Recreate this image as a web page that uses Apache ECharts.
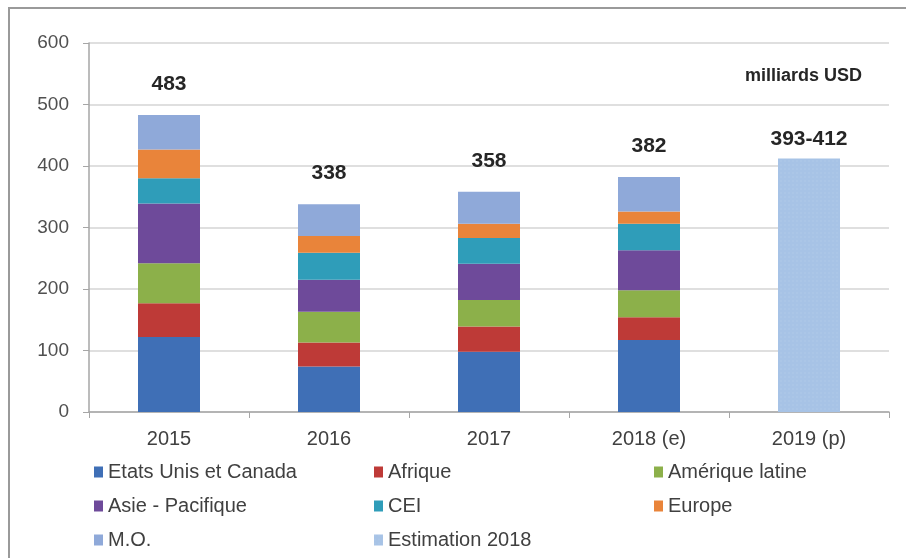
<!DOCTYPE html>
<html>
<head>
<meta charset="utf-8">
<title>Investissements amont par région</title>
<script src="https://cdn.jsdelivr.net/npm/echarts@6/dist/echarts.min.js"></script>
<style>
  html, body { margin: 0; padding: 0; background: #ffffff; }
  #chart { width: 906px; height: 558px; }
</style>
</head>
<body>
<div id="chart"></div>
<script>
// Years shown on the category axis
const years = ['2015', '2016', '2017', '2018 (e)', '2019 (p)'];

// Investment by region, milliards USD (2019 is only given as a range)
const etatsUnisCanada = [122, 74, 98, 117, '-'];
const afrique         = [55, 39, 41, 37, '-'];
const ameriqueLatine  = [65, 50, 43, 44, '-'];
const asiePacifique   = [97, 52, 59, 65, '-'];
const cei             = [41, 44, 42, 43, '-'];
const europe          = [47, 27, 23, 20, '-'];
const moyenOrient     = [56, 52, 52, 56, '-'];

// 2019 forecast range
const estimationLow  = 393;
const estimationHigh = 412;
const estimation2018 = ['-', '-', '-', '-', estimationHigh];

// Value axis ticks
const yMin = 0, yMax = 600, yStep = 100;

const regions = [
  { name: 'Etats Unis et Canada', data: etatsUnisCanada, color: '#3f6fb6' },
  { name: 'Afrique',              data: afrique,         color: '#be3a37' },
  { name: 'Amérique latine',      data: ameriqueLatine,  color: '#8cb04a' },
  { name: 'Asie - Pacifique',     data: asiePacifique,   color: '#6e4a9a' },
  { name: 'CEI',                  data: cei,             color: '#2f9db9' },
  { name: 'Europe',               data: europe,          color: '#e9843a' },
  { name: 'M.O.',                 data: moyenOrient,     color: '#8fa9d9' }
];

// Bar total for one year, summed over all regions
function totalFor(i) {
  return regions.reduce((s, r) => s + (typeof r.data[i] === 'number' ? r.data[i] : 0), 0);
}

const FONT = '"Liberation Sans", Arial, sans-serif';
const TEXT = '#404040';

const labelStyle = {
  fontFamily: FONT,
  fontSize: 21,
  fontWeight: 'bold',
  color: '#262626'
};

const series = regions.map((r, idx) => {
  const s = {
    name: r.name,
    type: 'bar',
    stack: 'total',
    data: r.data,
    barWidth: 62,
    itemStyle: { color: r.color },
    emphasis: { disabled: true }
  };
  if (idx === regions.length - 1) {
    s.label = Object.assign({
      show: true,
      position: 'top',
      distance: 20,
      formatter: p => String(totalFor(p.dataIndex))
    }, labelStyle);
  }
  return s;
});

series.push({
  name: 'Estimation 2018',
  type: 'bar',
  stack: 'total',
  data: estimation2018,
  barWidth: 62,
  itemStyle: {
    color: '#a7c3e6',
    decal: {
      symbol: 'rect',
      symbolSize: 0.6,
      color: 'rgba(255,255,255,0.18)',
      dashArrayX: [2, 2],
      dashArrayY: [2, 2],
      rotation: 0
    }
  },
  emphasis: { disabled: true },
  label: Object.assign({
    show: true,
    position: 'top',
    distance: 9,
    formatter: () => estimationLow + '-' + estimationHigh
  }, labelStyle)
});

const legendText = { fontFamily: FONT, fontSize: 20, color: TEXT, lineHeight: 20 };
function legendColumn(left, names) {
  return {
    orient: 'vertical',
    left: left,
    top: 457,
    itemWidth: 9,
    itemHeight: 11,
    itemGap: 14,
    icon: 'rect',
    selectedMode: false,
    textStyle: legendText,
    data: names
  };
}

const chart = echarts.init(document.getElementById('chart'), null, { renderer: 'canvas' });

chart.setOption({
  animation: false,
  backgroundColor: '#ffffff',
  title: {
    text: 'milliards USD',
    right: 39,
    top: 62,
    textStyle: { fontFamily: FONT, fontSize: 18, fontWeight: 'bold', color: '#262626' }
  },
  graphic: [{
    type: 'rect',
    shape: { x: 9, y: 8, width: 1000, height: 1000 },
    style: { fill: 'none', stroke: '#9a9a9a', lineWidth: 2 },
    silent: true
  }],
  grid: { left: 89, right: 17, top: 43, bottom: 146, containLabel: false },
  legend: [
    legendColumn(89,  ['Etats Unis et Canada', 'Asie - Pacifique', 'M.O.']),
    legendColumn(369, ['Afrique', 'CEI', 'Estimation 2018']),
    legendColumn(649, ['Amérique latine', 'Europe'])
  ],
  xAxis: {
    type: 'category',
    data: years,
    axisLine: { lineStyle: { color: '#a6a6a6', width: 1.5 } },
    axisTick: { show: true, alignWithLabel: false, length: 6, lineStyle: { color: '#a6a6a6' } },
    axisLabel: { fontFamily: FONT, fontSize: 20, color: TEXT, margin: 17 }
  },
  yAxis: {
    type: 'value',
    min: yMin,
    max: yMax,
    interval: yStep,
    axisLine: { show: true, lineStyle: { color: '#a6a6a6', width: 1.5 } },
    axisTick: { show: true, length: 6, lineStyle: { color: '#a6a6a6' } },
    axisLabel: { fontFamily: FONT, fontSize: 19, color: '#505050', margin: 20 },
    splitLine: { lineStyle: { color: '#d4d4d4', width: 1.5 } }
  },
  series: series
});
</script>
</body>
</html>
